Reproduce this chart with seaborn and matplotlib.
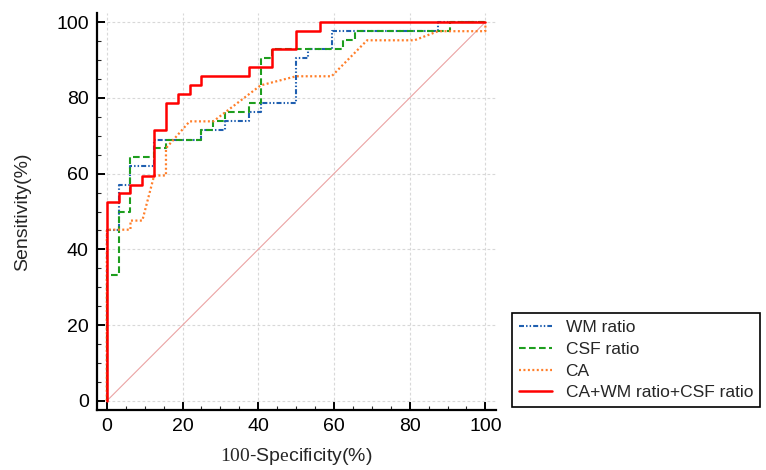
import matplotlib
matplotlib.use("Agg")
import matplotlib.pyplot as plt
from matplotlib.ticker import MultipleLocator
import seaborn as sns
import pandas as pd

# ---- data (ROC staircase vertices, in %) ----
wm_fpr = [0, 0, 3.125, 3.125, 6.25, 6.25, 12.5, 12.5, 25, 25, 31.25, 31.25, 37.5, 37.5,
          40.625, 40.625, 50, 50, 53.125, 53.125, 59.375, 59.375, 87.5, 87.5, 100]
wm_tpr = [0, 45.2, 45.2, 57.1, 57.1, 61.9, 61.9, 69.0, 69.0, 71.4, 71.4, 73.8, 73.8, 76.2,
          76.2, 78.6, 78.6, 90.5, 90.5, 92.9, 92.9, 97.6, 97.6, 100, 100]

csf_fpr = [0, 0, 3.125, 3.125, 6.25, 6.25, 12.5, 12.5, 15.625, 15.625, 25, 25, 28.125, 28.125,
           31.25, 31.25, 37.5, 37.5, 40.625, 40.625, 43.75, 43.75, 62.5, 62.5, 65.625, 65.625,
           90.625, 90.625, 100]
csf_tpr = [0, 33.3, 33.3, 50.0, 50.0, 64.3, 64.3, 66.7, 66.7, 69.0, 69.0, 71.4, 71.4, 73.8,
           73.8, 76.2, 76.2, 78.6, 78.6, 90.5, 90.5, 92.9, 92.9, 95.2, 95.2, 97.6,
           97.6, 100, 100]

ca_fpr = [0, 0, 6.25, 6.25, 9.375, 12.5, 15.625, 15.625, 21.875, 28.125, 40.625, 50,
          59.375, 68.75, 81.25, 87.5, 100, 100]
ca_tpr = [0, 45.2, 45.2, 47.6, 47.6, 59.5, 59.5, 66.7, 73.8, 73.8, 83.3, 85.7,
          85.7, 95.2, 95.2, 97.6, 97.6, 100]

comb_fpr = [0, 0, 3.125, 3.125, 6.25, 6.25, 9.375, 9.375, 12.5, 12.5, 15.625, 15.625,
            18.75, 18.75, 21.875, 21.875, 25, 25, 37.5, 37.5, 43.75, 43.75, 50, 50,
            56.25, 56.25, 100]
comb_tpr = [0, 52.4, 52.4, 54.8, 54.8, 57.1, 57.1, 59.5, 59.5, 71.4, 71.4, 78.6,
            78.6, 81.0, 81.0, 83.3, 83.3, 85.7, 85.7, 88.1, 88.1, 92.9, 92.9, 97.6,
            97.6, 100, 100]

labels = ["WM ratio", "CSF ratio", "CA", "CA+WM ratio+CSF ratio"]
ref_x = [0, 100]
ref_y = [0, 100]

# ---- style ----
sns.set_style("ticks")
plt.rcParams["font.family"] = ["Liberation Sans", "DejaVu Sans"]
plt.rcParams["mathtext.fontset"] = "custom"
plt.rcParams["mathtext.rm"] = "Liberation Serif"

fig = plt.figure(figsize=(7.66, 4.70), dpi=100)
ax = fig.add_axes([0.1266, 0.1277, 0.5209, 0.8446])

ax.grid(True, which="major", color="#d8d8d8", linestyle=(0, (2.5, 2)), linewidth=0.8)
ax.set_axisbelow(True)

sns.lineplot(x=ref_x, y=ref_y, ax=ax, color="#eba3a3", linewidth=0.8, zorder=2)

series = [
    (wm_fpr, wm_tpr, "#1f5fb0", (0, (2.4, 1.0, 0.7, 1.0, 0.7, 1.0)), 1.5),
    (csf_fpr, csf_tpr, "#1e9e1e", (0, (3.2, 1.6)), 1.5),
    (ca_fpr, ca_tpr, "#ff7f2a", (0, (0.9, 1.1)), 1.6),
    (comb_fpr, comb_tpr, "#ff0000", "-", 1.8),
]
for i, ((fx, ty, col, ls, lw), lab) in enumerate(zip(series, labels)):
    df = pd.DataFrame({"fpr": fx, "tpr": ty})
    sns.lineplot(data=df, x="fpr", y="tpr", ax=ax, sort=False, estimator=None,
                 color=col, linewidth=lw, linestyle=ls, label=lab, zorder=3 + i)

ax.set_xlim(-2.6, 102.8)
ax.set_ylim(-2.4, 102.4)
ax.xaxis.set_major_locator(MultipleLocator(20))
ax.yaxis.set_major_locator(MultipleLocator(20))
ax.xaxis.set_minor_locator(MultipleLocator(5))
ax.yaxis.set_minor_locator(MultipleLocator(5))
ax.tick_params(which="major", direction="in", length=6, width=1.4, labelsize=14, pad=6,
               colors="black")
ax.tick_params(which="minor", direction="in", length=3, width=0.8)

for s in ["top", "right"]:
    ax.spines[s].set_visible(False)
for s in ["left", "bottom"]:
    ax.spines[s].set_linewidth(1.6)
    ax.spines[s].set_color("black")

ax.set_xlabel(r"$\mathrm{100}$-Sp$\mathrm{e}$cificity(%)", fontsize=14, labelpad=8)
ax.set_ylabel("Sensitivity(%)", fontsize=14, labelpad=18)

leg = ax.legend(loc="upper left", bbox_to_anchor=(0.668, 0.334),
                bbox_transform=fig.transFigure, fontsize=12.5, frameon=True,
                fancybox=False, edgecolor="black", framealpha=1, borderpad=0.4,
                handlelength=1.9, handletextpad=0.8, labelspacing=0.38, borderaxespad=0)
leg.get_frame().set_linewidth(1.2)

fig.savefig("out.png", dpi=100)
